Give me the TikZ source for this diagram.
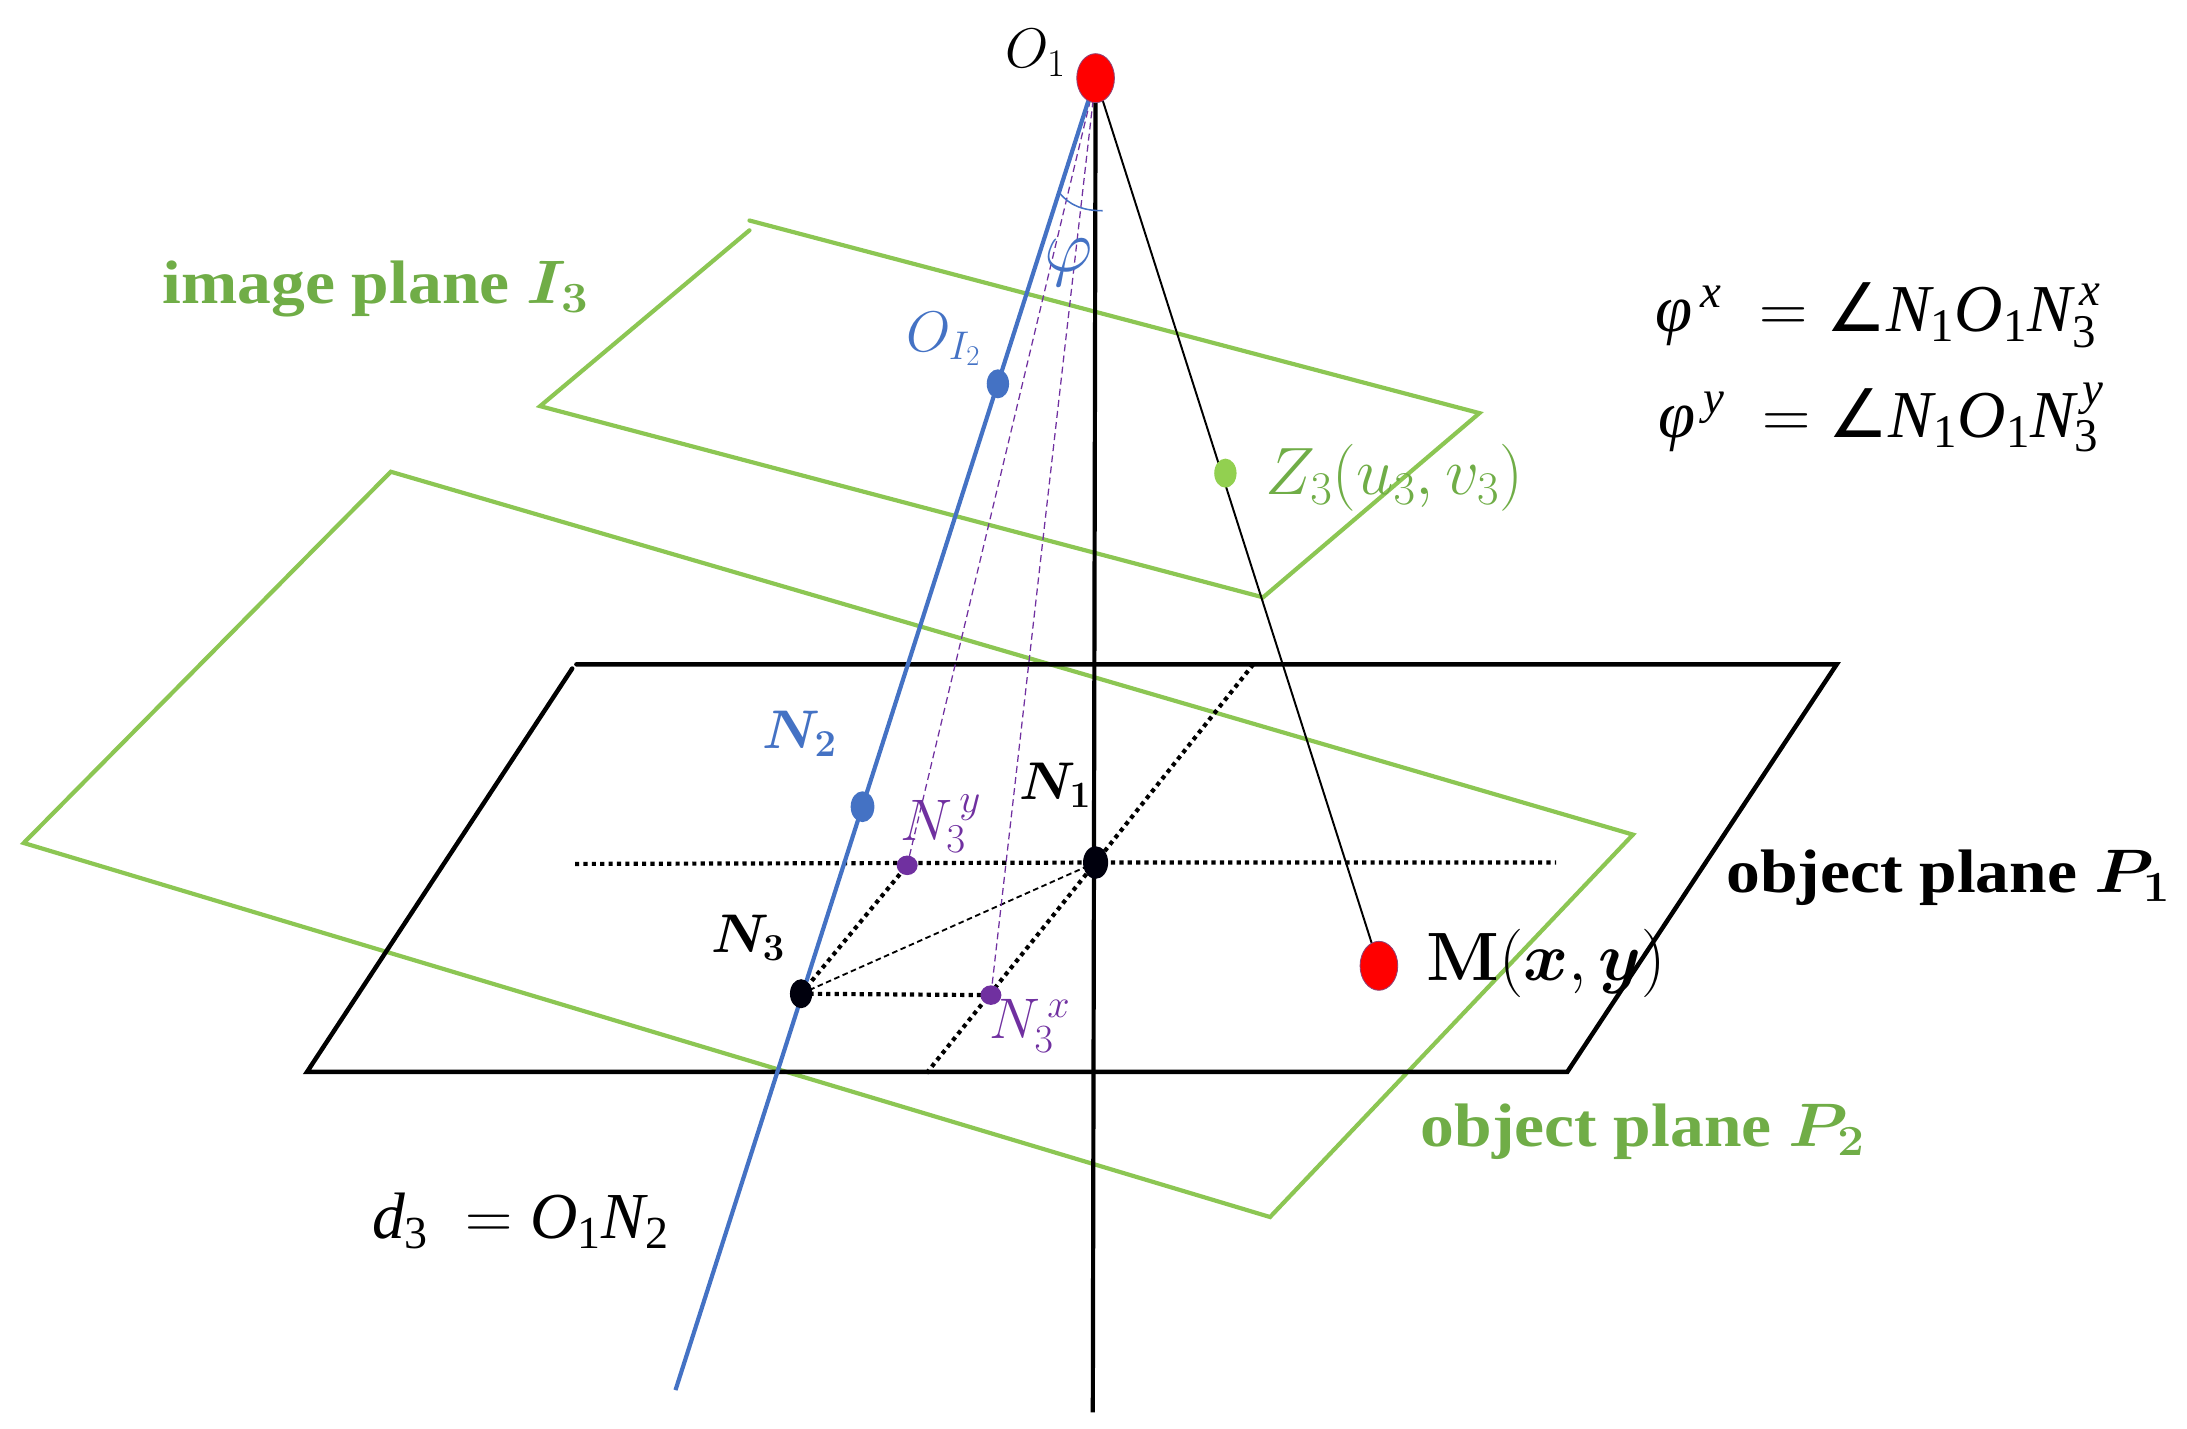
\documentclass[tikz,border=0pt]{standalone}
\usepackage{fix-cm}
\usepackage{amsmath}
\usepackage{bm}
\usepackage[no-math]{fontspec}
\setmainfont{Liberation Serif}
\newfontfamily\symfont{DejaVu Sans}
\usetikzlibrary{shapes.geometric,backgrounds}
\definecolor{lgreen}{HTML}{8CC653}
\definecolor{tgreen}{HTML}{70AD47}
\definecolor{dgreen}{HTML}{92D050}
\definecolor{mblue}{HTML}{4472C4}
\definecolor{mpurple}{HTML}{7030A0}
\newcommand{\ti}[1]{\mathord{\text{\itshape #1}}}
\newcommand{\tu}[1]{\mathord{\text{\upshape #1}}}
\newcommand{\fs}[1]{\fontsize{#1}{#1}\selectfont}
\newcommand{\bigangle}{\mathord{\text{\fs{48}\symfont ∠}}}
\tikzset{
  x=1pt,y=-1pt,
  dotn/.style={shape=ellipse,inner sep=0pt,minimum width=#1,minimum height=1.3*#1},
  reddot/.style={dotn=27pt,fill=red,draw=mblue!60!red,line width=0.6pt},
  bluedot/.style={dotn=16pt,fill=mblue},
  blackdot/.style={dotn=16pt,fill=black!95!blue},
  purpledot/.style={dotn=15pt,minimum height=14pt,fill=mpurple},
  greendot/.style={dotn=16pt,fill=dgreen},
  pgreen/.style={draw=lgreen,line width=3pt,line cap=round},
  pblack/.style={draw=black,line width=3.2pt,line cap=round},
  mainblue/.style={draw=mblue,line width=3pt},
  axis/.style={draw=black,line width=3pt},
  thinray/.style={draw=black,line width=1.4pt},
  purpleray/.style={draw=mpurple,line width=0.9pt,dash pattern=on 5pt off 3pt},
  dots/.style={draw=black,line width=3pt,dash pattern=on 3pt off 3pt},
  thindash/.style={draw=black,line width=1.3pt,dash pattern=on 4pt off 2.5pt},
  lab/.style={inner sep=0pt,outer sep=0pt,anchor=center},
  boldlab/.style={lab,font=\fs{44}\bfseries,xscale=1.1},
  timeslab/.style={lab,font=\fs{48}},
}
\begin{document}
\begin{tikzpicture}
\useasboundingbox (0,0) rectangle (1567,1023.2);
% dots
\node[reddot] (O1) at (785,56) {};
\node[bluedot] (OI) at (715,275) {};
\node[bluedot,dotn=17pt] (N2) at (618,578) {};
\node[blackdot] (N3) at (574,712) {};
\node[blackdot,dotn=18pt] (N1) at (785,618) {};
\node[purpledot] (Ny) at (650,620) {};
\node[purpledot] (Nx) at (710,713) {};
\node[greendot] (Z3) at (878,339) {};
\node[reddot] (M) at (988,692) {};
% free ends
\coordinate (axisend) at (783,1012);
\coordinate (blueend) at (484,996);
\coordinate (dL) at (412,619);
\coordinate (dR) at (1115,618);
\coordinate (dT) at (898,476);
\coordinate (dB) at (663,770);
\coordinate (A1) at (537,158);
\coordinate (A2) at (1060,296);
\coordinate (A3) at (905,428);
\coordinate (A4) at (387,291);
\coordinate (A5) at (537,165);
\coordinate (B1) at (280,338);
\coordinate (B2) at (1170,598);
\coordinate (B3) at (910,872);
\coordinate (B4) at (17,604);
\coordinate (C1) at (413,476);
\coordinate (C2) at (1316,476);
\coordinate (C3) at (1123,768);
\coordinate (C4) at (220,768);
\coordinate (C5) at (410,479);
\coordinate (arcA) at (759,138);
\coordinate (arcB) at (790,151);
\begin{pgfonlayer}{background}
\draw[pgreen] (A1) -- (A2) -- (A3) -- (A4) -- (A5);
\draw[pgreen] (B1) -- (B2) -- (B3) -- (B4) -- cycle;
\draw[pblack] (C1) -- (C2) -- (C3) -- (C4) -- (C5);
\draw[dots] (dL) -- (N1.center) -- (dR);
\draw[dots] (dT) -- (N1.center) -- (dB);
\draw[dots] (N3.center) -- (Ny.center);
\draw[dots] (N3.center) -- (Nx.center);
\draw[thindash] (N3.center) -- (N1.center);
\draw[purpleray] (O1.center) -- (Ny.center);
\draw[purpleray] (O1.center) -- (Nx.center);
\draw[axis] (O1.center) -- (axisend);
\draw[mainblue] (O1.center) -- (blueend);
\draw[thinray] (O1.center) -- (M.center);
\draw[draw=mblue,line width=1.1pt] (arcA) .. controls (766,147) and (776,151) .. (arcB);
\end{pgfonlayer}
% labels
\node[lab,font=\fs{40}] (tO1) at (742,38) {$O_1$};
\node[lab,font=\fs{54},text=mblue] (tphi) at (766,188) {$\varphi$};
\node[lab,font=\fs{41},text=mblue] (tOI) at (676,243) {$O_{I_2}$};
\node[lab,font=\fs{48},text=tgreen] (tZ) at (999,342) {$Z_3(u_3,v_3)$};
\node[lab,font=\fs{39},text=mblue] (tN2) at (573,526) {$\bm{N}_{\bm{2}}$};
\node[lab,font=\fs{38},text=black] (tN1) at (756,563) {$\bm{N}_{\bm{1}}$};
\node[lab,font=\fs{39},text=black] (tN3) at (536,672) {$\bm{N}_{\bm{3}}$};
\node[lab,font=\fs{42},text=mpurple] (tNy) at (674,590) {$N_3^{\,y}$};
\node[lab,font=\fs{41},text=mpurple] (tNx) at (738,735) {$N_3^{\,x}$};
\node[boldlab,text=tgreen] (tI) at (269,207) {image plane $\bm{I}_{\bm{3}}$};
\node[boldlab,text=black] (tP1) at (1396,629) {object plane $\bm{P}_{\bm{1}}$};
\node[boldlab,text=tgreen] (tP2) at (1177,811) {object plane $\bm{P}_{\bm{2}}$};
\node[lab,font=\fs{49}] (tM) at (1108,690) {$\mathbf{M}(\bm{x},\bm{y})$};
\node[timeslab] (eqx) at (1346,226) {$\ti{φ}^{\,\ti{x}}\;=\bigangle\ti{N}_{\tu{1}}\ti{O}_{\tu{1}}\ti{N}_{\tu{3}}^{\,\ti{x}}$};
\node[timeslab] (eqy) at (1348,299) {$\ti{φ}^{\,\ti{y}}\;=\bigangle\ti{N}_{\tu{1}}\ti{O}_{\tu{1}}\ti{N}_{\tu{3}}^{\,\ti{y}}$};
\node[lab,font=\fs{47}] (eqd) at (373,875) {$\ti{d}_{\tu{3}}\;=\ti{O}_{\tu{1}}\ti{N}_{\tu{2}}$};
\end{tikzpicture}
\end{document}
